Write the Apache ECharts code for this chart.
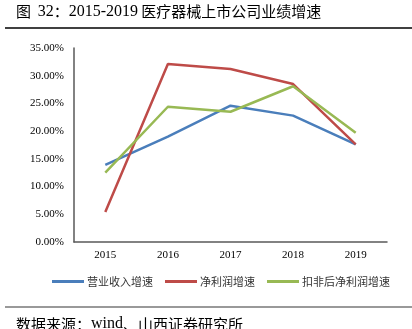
<!DOCTYPE html>
<html><head><meta charset="utf-8">
<script src="https://cdn.jsdelivr.net/npm/echarts@6/dist/echarts.min.js"></script>
<style>html,body{margin:0;padding:0;background:#fff}#c{width:412px;height:329px}</style>
</head><body><div id="c"></div>
<script>
const categories = ['2015','2016','2017','2018','2019'];
const revenueGrowth = [13.9, 19.0, 24.6, 22.8, 17.6];
const netProfitGrowth = [5.4, 32.1, 31.2, 28.5, 17.6];
const deductedNetProfitGrowth = [12.5, 24.4, 23.5, 28.1, 19.7];
const seriesNames = ['营业收入增速','净利润增速','扣非后净利润增速'];
const colors = ['#4a7ebb','#be4b48','#98b954'];
const serif = '"Liberation Serif","Times New Roman",serif';
const cjk = '"Noto Sans CJK SC",sans-serif';

const chart = echarts.init(document.getElementById('c'));
chart.setOption({
  animation:false,
  color: colors,
  grid:{left:74,right:25,top:48,bottom:87,containLabel:false},
  legend:{
    bottom:37, left:47, itemWidth:32, itemHeight:3, itemGap:12,
    icon:'rect',
    textStyle:{fontFamily:cjk,fontSize:11,color:'#333',padding:[0,0,0,-2]},
    data: seriesNames
  },
  xAxis:{
    type:'category', data:categories, boundaryGap:true,
    axisLine:{lineStyle:{color:'#595959',width:1.5}},
    axisTick:{show:false},
    axisLabel:{fontFamily:serif,fontSize:11,color:'#000',margin:8}
  },
  yAxis:{
    type:'value', min:0, max:35, interval:5,
    axisLine:{show:true,lineStyle:{color:'#595959',width:1.5}},
    axisTick:{show:false},
    splitLine:{show:false},
    axisLabel:{fontFamily:serif,fontSize:11,color:'#000',margin:10,formatter:v=>v.toFixed(2)+'%'}
  },
  series:[
    {name:seriesNames[0],type:'line',data:revenueGrowth,symbol:'none',lineStyle:{width:2.5}},
    {name:seriesNames[1],type:'line',data:netProfitGrowth,symbol:'none',lineStyle:{width:2.5}},
    {name:seriesNames[2],type:'line',data:deductedNetProfitGrowth,symbol:'none',lineStyle:{width:2.5}}
  ],
  graphic:[
    {type:'text',left:16,top:3,style:{
      text:'{c|图}  {s|32}{c|：}{s|2015-2019} {c|医疗器械上市公司业绩增速}',
      rich:{c:{font:'15px '+cjk,fill:'#000',lineHeight:20},s:{font:'16px '+serif,fill:'#000',lineHeight:20,padding:[1,0,0,0]}}
    }},
    {type:'line',shape:{x1:5,y1:28,x2:412,y2:28},style:{stroke:'#000',lineWidth:1.5}},
    {type:'line',shape:{x1:5,y1:307,x2:412,y2:307},style:{stroke:'#777',lineWidth:1.5}},
    {type:'text',left:16,top:316,style:{
      text:'{c|数据来源：}{s|wind}{c|、山西证券研究所}',
      rich:{c:{font:'15px '+cjk,fill:'#000'},s:{font:'16px '+serif,fill:'#000'}}
    }}
  ]
});
</script></body></html>
